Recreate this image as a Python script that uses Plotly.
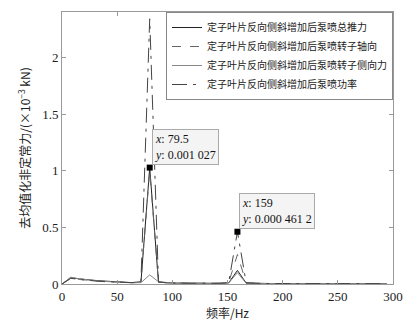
import plotly.graph_objects as go

step = 7.95
freq = [round(i * step, 2) for i in range(38)]

total = [0.0, 0.055, 0.045, 0.035, 0.03, 0.025, 0.02, 0.015, 0.012, 0.018, 1.027, 0.015,
         0.01, 0.008, 0.007, 0.006, 0.006, 0.005, 0.006, 0.01, 0.12, 0.008,
         0.005, 0.004, 0.004, 0.004, 0.003, 0.003, 0.004, 0.003, 0.003, 0.003,
         0.003, 0.003, 0.003, 0.003, 0.003, 0.003]
axial = [0.0, 0.05, 0.04, 0.032, 0.028, 0.022, 0.018, 0.014, 0.012, 0.02, 1.0, 0.018,
         0.01, 0.008, 0.007, 0.006, 0.006, 0.005, 0.006, 0.012, 0.26, 0.01,
         0.005, 0.004, 0.004, 0.004, 0.003, 0.003, 0.004, 0.003, 0.003, 0.003,
         0.003, 0.003, 0.003, 0.003, 0.003, 0.003]
lateral = [0.0, 0.06, 0.045, 0.035, 0.028, 0.022, 0.016, 0.012, 0.01, 0.012, 0.08, 0.02,
           0.008, 0.006, 0.005, 0.005, 0.004, 0.004, 0.005, 0.008, 0.1, 0.006,
           0.004, 0.003, 0.003, 0.003, 0.003, 0.003, 0.003, 0.003, 0.003, 0.003,
           0.003, 0.003, 0.003, 0.003, 0.003, 0.003]
power = [0.0, 0.05, 0.04, 0.03, 0.025, 0.02, 0.016, 0.013, 0.012, 0.02, 2.34, 0.02,
         0.01, 0.008, 0.007, 0.006, 0.006, 0.005, 0.006, 0.012, 0.4612, 0.01,
         0.005, 0.004, 0.004, 0.004, 0.003, 0.003, 0.004, 0.003, 0.003, 0.003,
         0.003, 0.003, 0.003, 0.003, 0.003, 0.003]

names = ["定子叶片反向侧斜增加后泵喷总推力", "定子叶片反向侧斜增加后泵喷转子轴向",
         "定子叶片反向侧斜增加后泵喷转子侧向力", "定子叶片反向侧斜增加后泵喷功率"]

tips = [(79.5, 1.027, "<i>x</i>: 79.5<br><i>y</i>: 0.001 027"),
        (159, 0.4612, "<i>x</i>: 159<br><i>y</i>: 0.000 461 2")]

fig = go.Figure()
styles = [("#222222", "solid", 1.0), ("#666666", "dash", 1.0),
          ("#888888", "solid", 1.0), ("#444444", "longdashdot", 1.0)]
for ys, nm, (c, d, w) in zip([total, axial, lateral, power], names, styles):
    fig.add_trace(go.Scatter(x=freq, y=ys, mode="lines", name=nm,
                             line=dict(color=c, dash=d, width=w)))

fig.add_trace(go.Scatter(x=[t[0] for t in tips], y=[t[1] for t in tips], mode="markers",
                         marker=dict(symbol="square", size=6, color="black"),
                         showlegend=False))
for tx, ty, txt in tips:
    fig.add_annotation(x=tx, y=ty, xref="x", yref="y", text=txt, showarrow=False,
                       xanchor="left", yanchor="bottom", xshift=2, yshift=3, align="left",
                       bgcolor="#f4f4f4", bordercolor="#aaaaaa", borderwidth=1, borderpad=2,
                       font=dict(family="Liberation Serif", size=12, color="#111"))

axis_common = dict(showline=True, linecolor="#999999", linewidth=1, mirror="ticks",
                   ticks="inside", ticklen=4, tickcolor="#999999", showgrid=False,
                   zeroline=False, automargin=False,
                   tickfont=dict(family="Liberation Serif", size=13, color="#222"))
fig.update_xaxes(range=[0, 300], tickvals=[0, 50, 100, 150, 200, 250, 300],
                 title=dict(text="频率/Hz", standoff=2,
                            font=dict(family="Noto Sans CJK SC", size=12, color="#222")),
                 **axis_common)
fig.update_yaxes(range=[0, 2.4], tickvals=[0, 0.5, 1, 1.5, 2],
                 ticktext=["0", "0.5", "1", "1.5", "2"],
                 title=dict(text="去均值化非定常力/(×10<sup>−3</sup> kN)", standoff=8,
                            font=dict(family="Noto Sans CJK SC", size=12, color="#222")),
                 **axis_common)

fig.update_layout(width=418, height=326, margin=dict(l=62, r=25, t=12, b=42),
                  paper_bgcolor="white", plot_bgcolor="white",
                  legend=dict(x=1, y=1, xanchor="right", yanchor="top",
                              bgcolor="white", bordercolor="#888888", borderwidth=1,
                              font=dict(family="Noto Sans CJK SC", size=10, color="#222"),
                              tracegroupgap=0, itemwidth=30))
fig.write_html("out.html")
